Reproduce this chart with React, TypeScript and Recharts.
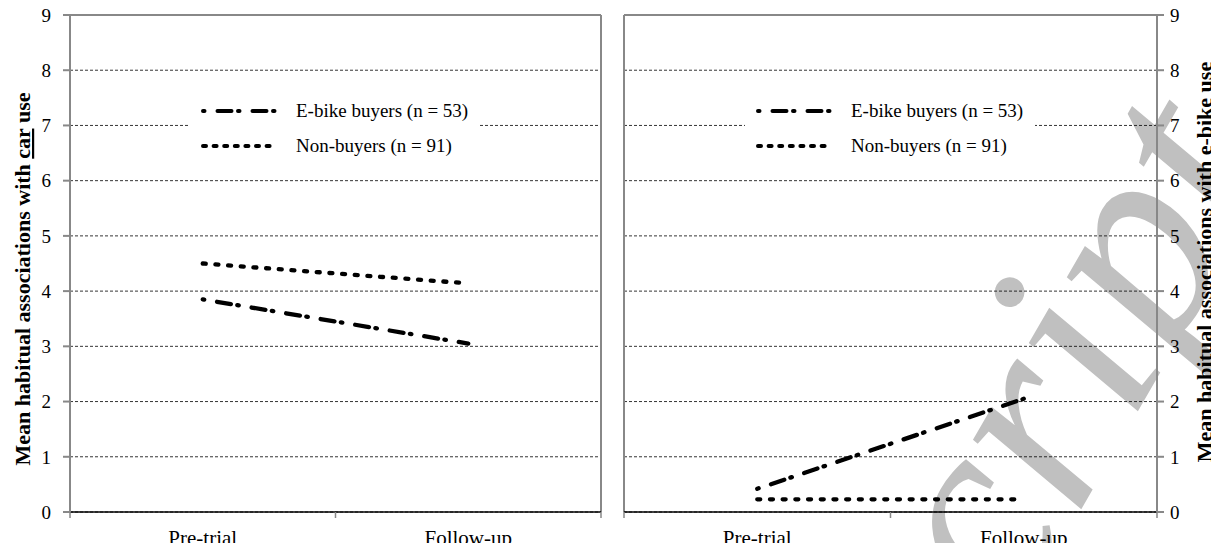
import React from "react"
import { CartesianGrid, Legend, Line, LineChart, ReferenceLine, XAxis, YAxis } from "recharts"

const periods = ["Pre-trial", "Follow-up"]
const carBuyers = [3.85, 3.05]
const carNonBuyers = [4.5, 4.14]
const ebikeBuyers = [0.42, 2.05]
const ebikeNonBuyers = [0.23, 0.23]
const yTicks = [0, 1, 2, 3, 4, 5, 6, 7, 8, 9]
const xTicks = [0, 0.5, 1, 1.5, 2]
const seriesLabels = ["E-bike buyers (n = 53)", "Non-buyers (n = 91)"]

const FONT = '"Liberation Serif", "Times New Roman", serif'
const FRAME = "#888888"
const DASH_DOT = "14 6.5 1.5 13"
const DOTS = "3 9.7"

const makeRows = (buyers: number[], nonBuyers: number[]) =>
  periods.map((p, i) => ({ x: i + 0.5, period: p, buyers: buyers[i], nonBuyers: nonBuyers[i] }))

function XTick(props: any) {
  const { x, y, payload } = props
  const v = payload.value
  if (Number.isInteger(v)) {
    return <line x1={x} x2={x} y1={y} y2={y + 6} stroke={FRAME} strokeWidth={1.5} />
  }
  return (
    <text x={x} y={y + 33} textAnchor="middle" fontFamily={FONT} fontSize={21} fill="#000">
      {periods[Math.floor(v)]}
    </text>
  )
}

function LegendBox() {
  return (
    <div style={{ background: "#fff", padding: "4px 12px 4px 10px", fontFamily: FONT, fontSize: 19, color: "#000" }}>
      {seriesLabels.map((label, i) => (
        <div key={label} style={{ display: "flex", alignItems: "center", height: 35 }}>
          <svg width={80} height={10} style={{ marginRight: 16 }}>
            <line
              x1={3}
              x2={77}
              y1={5}
              y2={5}
              stroke="#000"
              strokeWidth={4}
              strokeLinecap="round"
              strokeDasharray={i === 0 ? DASH_DOT : "3 7.6"}
              strokeDashoffset={i === 0 ? 20.5 : 0}
            />
          </svg>
          <span>{label}</span>
        </div>
      ))}
    </div>
  )
}

function Panel({ buyers, nonBuyers, right }: { buyers: number[]; nonBuyers: number[]; right?: boolean }) {
  return (
    <LineChart
      width={609}
      height={551}
      data={makeRows(buyers, nonBuyers)}
      margin={{ top: 15, right: right ? 0 : 8, bottom: 0, left: right ? 14 : 0 }}
    >
      <CartesianGrid vertical={false} stroke="#000" strokeWidth={0.8} strokeDasharray="3 2" />
      <XAxis
        dataKey="x"
        type="number"
        domain={[0, 2]}
        ticks={xTicks}
        interval={0}
        tick={<XTick />}
        tickLine={false}
        tickSize={0}
        tickMargin={0}
        height={39}
        stroke="#000"
        strokeWidth={1.5}
      />
      <YAxis
        orientation={right ? "right" : "left"}
        domain={[0, 9]}
        ticks={yTicks}
        interval={0}
        width={right ? 62 : 70}
        stroke={FRAME}
        strokeWidth={2}
        tickSize={7}
        tickMargin={right ? 6 : 12}
        tick={{ fill: "#000", fontFamily: FONT, fontSize: 19 }}
      />
      <ReferenceLine y={9} stroke={FRAME} strokeWidth={2} />
      <ReferenceLine x={right ? 0 : 2} stroke={FRAME} strokeWidth={2} />
      <Legend
        layout="horizontal"
        verticalAlign="middle"
        align="center"
        content={() => <LegendBox />}
        wrapperStyle={{ left: right ? 135 : 190, top: 89, width: "auto" }}
      />
      <Line
        dataKey="buyers"
        stroke="#000"
        strokeWidth={4.3}
        strokeDasharray={DASH_DOT}
        strokeDashoffset={20.5}
        strokeLinecap="round"
        dot={false}
        isAnimationActive={false}
      />
      <Line
        dataKey="nonBuyers"
        stroke="#000"
        strokeWidth={4.3}
        strokeDasharray={DOTS}
        strokeLinecap="round"
        dot={false}
        isAnimationActive={false}
      />
    </LineChart>
  )
}

export default function App() {
  return (
    <div style={{ position: "relative", width: 1219, height: 551, margin: -8, background: "#fff", overflow: "hidden" }}>
      <svg width={1219} height={551} style={{ position: "absolute", left: 0, top: 0 }}>
        <g transform="translate(959,721) rotate(-60)" fill="#c0c0c0" fontFamily={FONT} fontStyle="italic" fontSize={280}>
          <text textAnchor="end">Manu</text>
          <text textAnchor="start">script</text>
        </g>
      </svg>
      <div style={{ position: "absolute", left: 0, top: 0 }}>
        <Panel buyers={carBuyers} nonBuyers={carNonBuyers} />
      </div>
      <div style={{ position: "absolute", left: 610, top: 0 }}>
        <Panel buyers={ebikeBuyers} nonBuyers={ebikeNonBuyers} right />
      </div>
      <svg width={1219} height={551} style={{ position: "absolute", left: 0, top: 0, pointerEvents: "none" }}>
        <text
          transform="translate(30,279) rotate(-90)"
          textAnchor="middle"
          fontFamily={FONT}
          fontWeight="bold"
          fontSize={22}
          fill="#000"
        >
          Mean habitual associations with <tspan textDecoration="underline">car</tspan> use
        </text>
        <text
          transform="translate(1212,262) rotate(-90)"
          textAnchor="middle"
          fontFamily={FONT}
          fontWeight="bold"
          fontSize={22}
          fill="#000"
        >
          Mean habitual associations with <tspan textDecoration="underline">e-bike</tspan> use
        </text>
      </svg>
    </div>
  )
}
